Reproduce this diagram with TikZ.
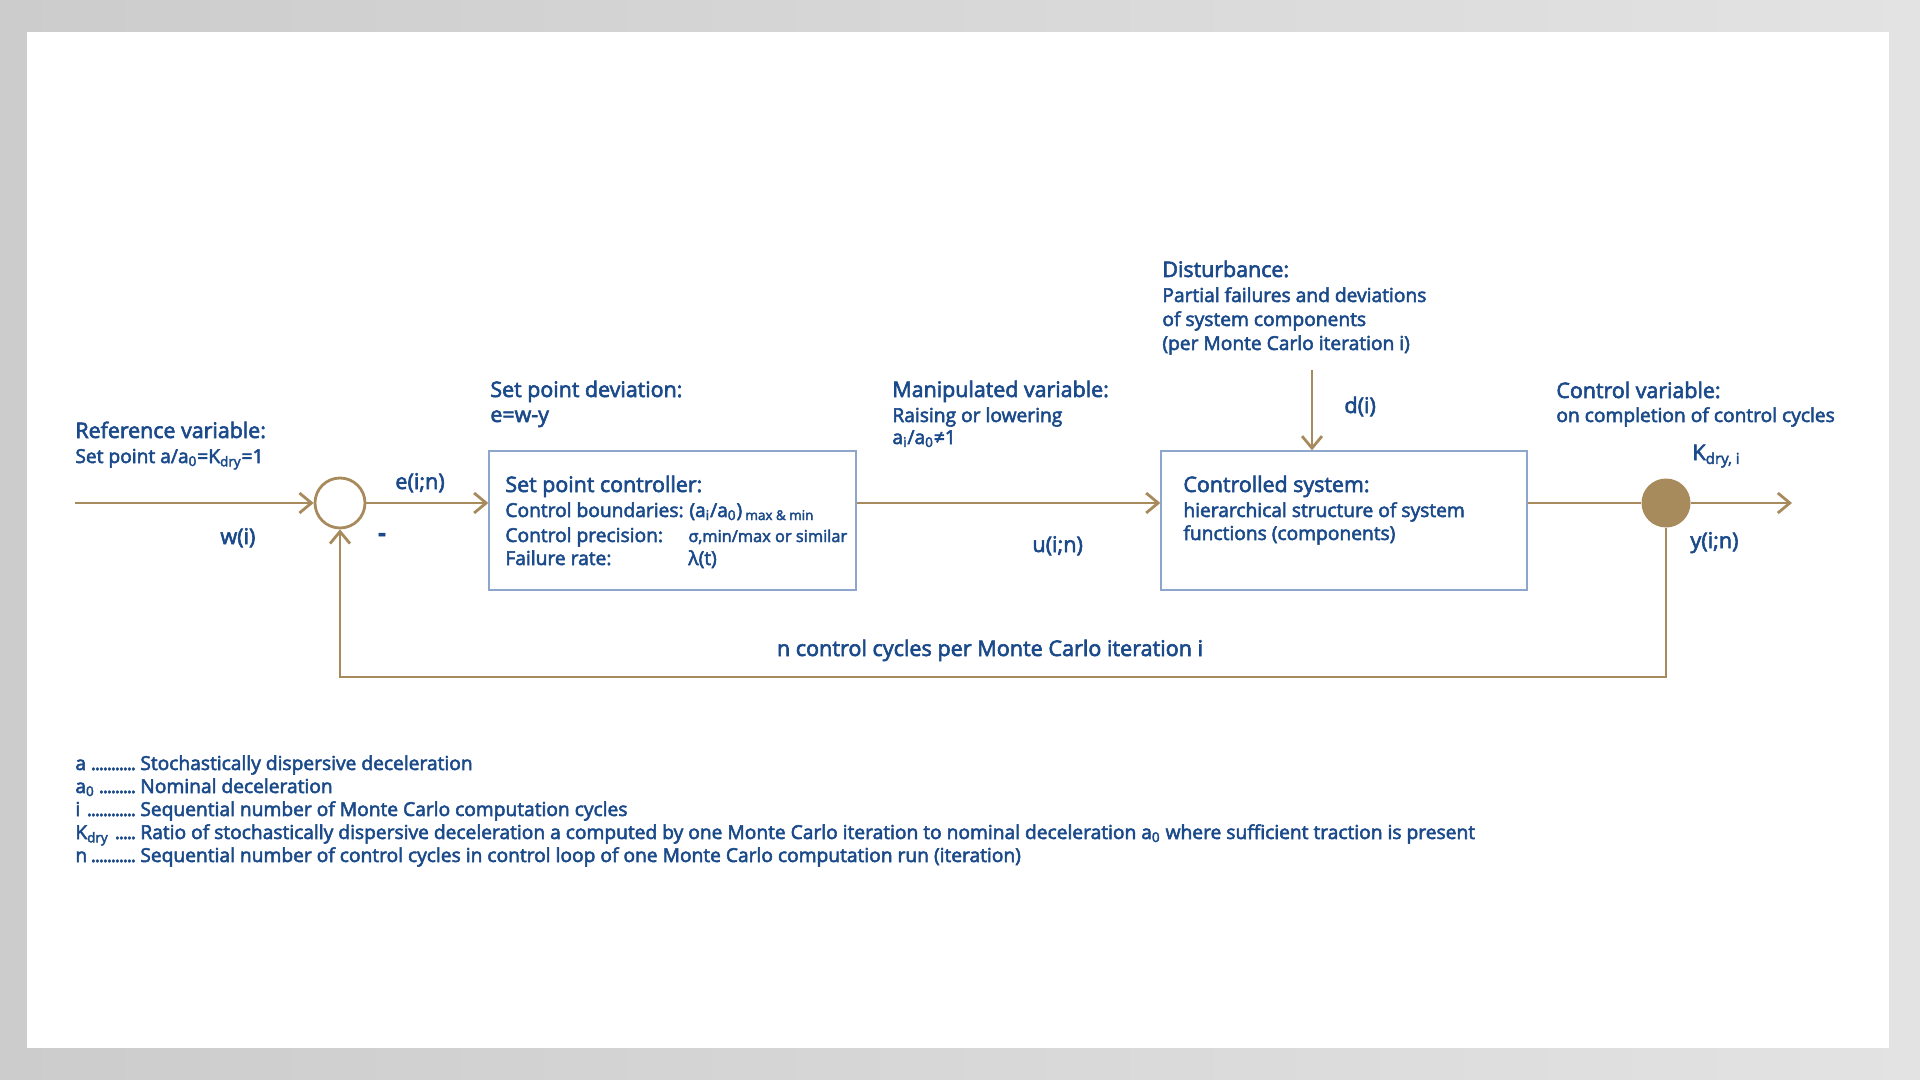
\documentclass[tikz,border=0pt]{standalone}
\usepackage{fontspec}
\setmainfont{Open Sans}[FakeBold=2.8]
\usetikzlibrary{arrows.meta}
\definecolor{txt}{HTML}{1B4A8A}
\definecolor{ln}{HTML}{A88B5C}
\definecolor{bx}{HTML}{8EA6CC}
\newcommand\sbs[1]{\textsubscript{#1}}
\newcommand\lgd[1]{\makebox[31.5pt][l]{#1\,\leaders\hbox to 2pt{\hss.\hss}\hfill}\hspace{1pt}}
\begin{document}
\begin{tikzpicture}[x=0.5pt,y=-0.5pt,
  flow/.style={draw=ln, line width=1.4pt, -{Straight Barb[length=6pt,width=10pt]}},
  plain/.style={draw=ln, line width=1.4pt},
  box/.style={draw=bx, line width=0.7pt, rectangle, inner sep=0pt},
  lbl/.style={anchor=base west, inner sep=0pt, text=txt, font=\fontsize{9.6}{11}\selectfont},
  hd/.style={lbl, font=\fontsize{10.7}{12}\selectfont},
  big/.style={lbl, font=\fontsize{10.8}{12}\selectfont},
  sm/.style={lbl, font=\fontsize{8.2}{10}\selectfont}]
% background
\shade[left color=black!20, right color=black!11] (0,0) rectangle (1920,1080);
\fill[white] (27,32) rectangle (1889,1048);
\useasboundingbox (0,0) rectangle (1920,1080);
% blocks
\node[circle, draw=ln, line width=1.4pt, minimum size=25pt, inner sep=0pt] (sum) at (340,503) {};
\node[box, minimum width=183.5pt, minimum height=69.5pt] (ctrl) at (672.5,520.5) {};
\node[box, minimum width=183pt, minimum height=69.5pt] (plant) at (1344,520.5) {};
\node[circle, fill=ln, minimum size=24.5pt, inner sep=0pt] (dot) at (1666,503) {};
\coordinate (in) at (75,503);
\coordinate (out) at (1792,503);
\coordinate (dtop) at (1312,370);
\coordinate (fb) at (1666,677);
% connectors
\draw[flow] (in) -- (sum.west);
\draw[flow] (sum.east) -- (sum.east -| ctrl.west);
\draw[flow] (ctrl.east |- sum) -- (plant.west |- sum);
\draw[plain] (plant.east |- dot) -- (dot.west);
\draw[flow] (dot.east) -- (out);
\draw[flow] (dtop) -- (dtop |- plant.north);
\draw[flow] (dot.south) -- (fb) -| (sum.south);
% texts
\node[hd] (ref1) at (75,438) {Reference variable:};
\node[lbl] (ref2) at (75,463) {Set point a/a\sbs{0}=K\sbs{dry}=1};
\node[big] (lw) at (220,544) {w(i)};
\node[big] (le) at (395,489) {e(i;n)};
\node[big, anchor=base, font=\fontsize{12}{12}\bfseries] (minus) at (382,541) {-};
\node[hd] (dev1) at (490,397) {Set point deviation:};
\node[hd] (dev2) at (490,422) {e=w-y};
\node[hd] (c1) at (505,492) {Set point controller:};
\node[lbl] (c2) at (505,517) {Control boundaries:};
\node[lbl] (c2b) at (689,517) {(a\sbs{i}/a\sbs{0})\,\sbs{max \& min}};
\node[lbl] (c3) at (505,542) {Control precision:};
\node[sm] (c3b) at (688,542) {σ,min/max or similar};
\node[lbl] (c4) at (505,565) {Failure rate:};
\node[lbl] (c4b) at (688,565) {λ(t)};
\node[hd] (man1) at (892,397) {Manipulated variable:};
\node[lbl] (man2) at (892,422) {Raising or lowering};
\node[lbl] (man3) at (892,444) {a\sbs{i}/a\sbs{0}≠1};
\node[big] (lu) at (1032,552) {u(i;n)};
\node[hd] (dis1) at (1162,277) {Disturbance:};
\node[lbl] (dis2) at (1162,302) {Partial failures and deviations};
\node[lbl] (dis3) at (1162,326) {of system components};
\node[lbl] (dis4) at (1162,350) {(per Monte Carlo iteration i)};
\node[big] (ld) at (1344,413) {d(i)};
\node[hd] (p1) at (1183,492) {Controlled system:};
\node[lbl] (p2) at (1183,517) {hierarchical structure of system};
\node[lbl] (p3) at (1183,540) {functions (components)};
\node[hd] (cv1) at (1556,398) {Control variable:};
\node[lbl] (cv2) at (1556,422) {on completion of control cycles};
\node[big] (lk) at (1692,460) {K\sbs{dry, i}};
\node[big] (ly) at (1690,548) {y(i;n)};
\node[big, anchor=base] (fbl) at (990,656) {n control cycles per Monte Carlo iteration i};
% legend
\node[lbl] (l1) at (75,770) {\lgd{a}Stochastically dispersive deceleration};
\node[lbl] (l2) at (75,793) {\lgd{a\sbs{0}}Nominal deceleration};
\node[lbl] (l3) at (75,816) {\lgd{i}Sequential number of Monte Carlo computation cycles};
\node[lbl] (l4) at (75,839) {\lgd{K\sbs{dry}}Ratio of stochastically dispersive deceleration a computed by one Monte Carlo iteration to nominal deceleration a\sbs{0} where sufficient traction is present};
\node[lbl] (l5) at (75,862) {\lgd{n}Sequential number of control cycles in control loop of one Monte Carlo computation run (iteration)};
\end{tikzpicture}
\end{document}
